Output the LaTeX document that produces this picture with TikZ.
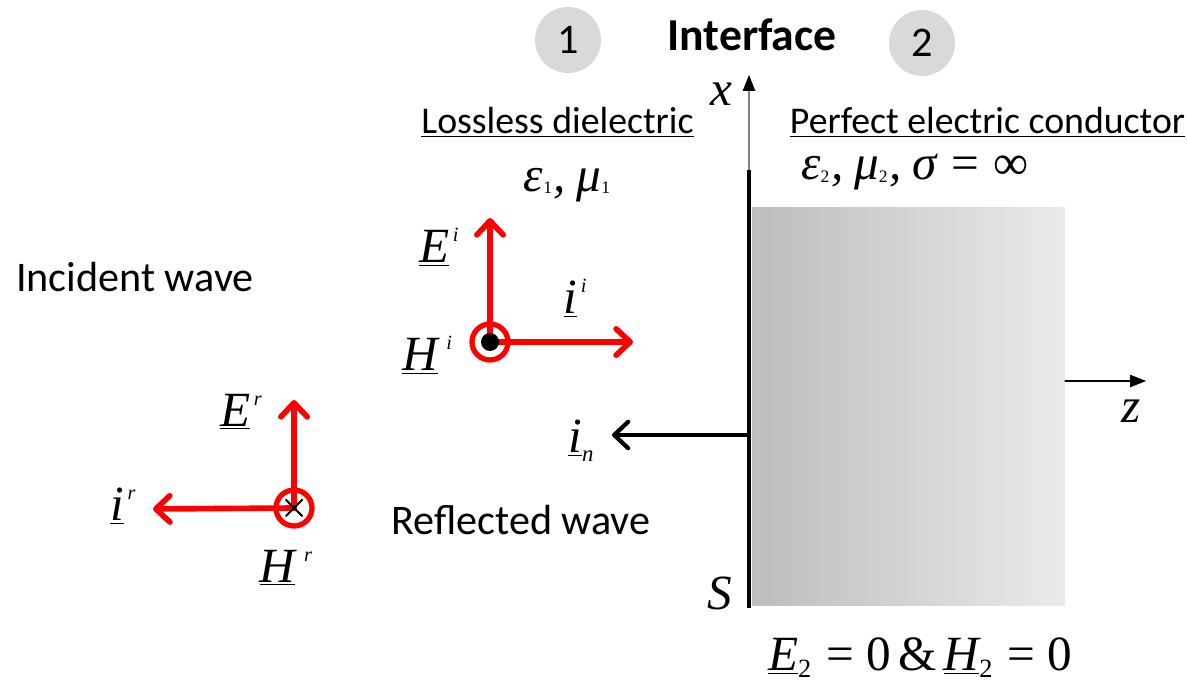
\documentclass[tikz,border=0pt]{standalone}
\usepackage{fontspec}
\setmainfont{Carlito}
\newfontfamily\tnr{Liberation Serif}
\usetikzlibrary{arrows.meta}
\definecolor{discgray}{HTML}{D9D9D9}
\definecolor{pecdark}{HTML}{BDBDBD}
\definecolor{peclight}{HTML}{EAEAEA}
% small indices beside the symbols
\newcommand{\supidx}[1]{\kern2pt\raisebox{12pt}{\fontsize{11.5}{11.5}\selectfont #1}}
\newcommand{\subidx}[1]{\raisebox{-1.5pt}{\fontsize{10}{10}\selectfont\upshape #1}}
\newcommand{\gap}{\kern1pt,\kern6pt}
\begin{document}
\begin{tikzpicture}[line cap=round,line join=round,
  field/.style={red,line width=3.2pt,-{Straight Barb[length=8pt,width=15pt,line cap=round,line join=round]}},
  ring/.style={draw=red,line width=3pt},
  txt/.style={font=\fontsize{24}{28}\selectfont},
  head/.style={font=\fontsize{21.5}{26}\selectfont},
  sym/.style={font=\fontsize{28}{32}\selectfont\tnr\itshape,inner sep=0pt},
  region/.style={circle,fill=discgray,minimum size=1.32cm,inner sep=0pt,font=\fontsize{24}{28}\selectfont}]
  \useasboundingbox (0,0) rectangle (23.74,13.72);
  % regions and interface
  \node[region] (one) at (11.36,12.92) {1};
  \node[region] (two) at (18.44,12.86) {2};
  \node[font=\fontsize{26}{30}\selectfont\bfseries] (iface) at (15.04,13.02) {Interface};
  \node[head] (diel) at (11.15,11.28) {\underline{Lossless dielectric}};
  \node[head] (pec) at (19.75,11.28) {\underline{Perfect electric conductor}};
  \node[sym] (mat1) at (11.34,10.02) {ε\subidx{1}\gap μ\subidx{1}};
  \node[sym] (mat2) at (18.3,10.28) {ε\subidx{2}\gap μ\subidx{2}\gap σ\hspace{0.3em}{\upshape =}\hspace{0.3em}{\upshape ∞}};
  % conductor and axes
  \shade[left color=pecdark,right color=peclight] (15.04,1.60) rectangle (21.30,9.56);
  \coordinate (xbase) at (14.98,10.32);
  \coordinate (xtip) at (14.98,12.22);
  \coordinate (sbot) at (14.98,1.56);
  \coordinate (zbase) at (21.30,6.10);
  \coordinate (ztip) at (22.92,6.10);
  \draw[gray,line width=0.6pt,-{Triangle[length=9pt,width=7pt,color=black]}] (xbase) -- (xtip);
  \draw[line width=0.6pt,-{Triangle[length=9pt,width=7pt]}] (zbase) -- (ztip);
  \draw[line width=2.3pt,line cap=butt] (xbase) -- (sbot);
  \node[sym] (xlab) at (14.42,11.84) {x};
  \node[sym] (zlab) at (22.62,5.50) {z};
  \node[sym] (slab) at (14.40,1.86) {S};
  \node[sym] (bc) at (18.40,0.56) {\underline{E}\raisebox{-4pt}{\fontsize{15}{15}\selectfont\upshape 2}\upshape\hspace{0.3em}=\hspace{0.25em}0\hspace{0.15em}\&\hspace{0.15em}\itshape\underline{H}\raisebox{-4pt}{\fontsize{15}{15}\selectfont\upshape 2}\upshape\hspace{0.3em}=\hspace{0.25em}0};
  % normal vector
  \coordinate (nbase) at (14.98,5.02);
  \coordinate (ntip) at (12.24,5.02);
  \draw[line width=2.4pt,-{Straight Barb[length=8pt,width=15pt,line cap=round,line join=round]}] (nbase) -- (ntip);
  \node[sym] (nlab) at (11.62,4.90) {\underline{i}\raisebox{-5pt}{\fontsize{13}{13}\selectfont n}};
  % incident wave
  \node[txt] (inc) at (2.70,8.18) {Incident wave};
  \coordinate (hi) at (9.80,6.88);
  \coordinate (eitip) at (9.80,9.36);
  \coordinate (iitip) at (12.66,6.88);
  \draw[field] (hi) -- (eitip);
  \draw[field] (hi) -- (iitip);
  \draw[ring] (hi) circle (0.36);
  \fill (hi) circle (0.18);
  \node[sym] (eilab) at (8.78,8.78) {\underline{E}\supidx{i}};
  \node[sym] (hilab) at (8.54,6.62) {\underline{H}\kern3pt\supidx{i}};
  \node[sym] (iilab) at (11.50,7.76) {\underline{i}\supidx{i}};
  % reflected wave
  \node[txt] (refl) at (10.42,3.32) {Reflected wave};
  \coordinate (hr) at (5.88,3.56);
  \coordinate (ertip) at (5.88,5.72);
  \coordinate (irtip) at (3.06,3.54);
  \draw[field] (hr) -- (ertip);
  \draw[field] (hr) -- (irtip);
  \draw[ring] (hr) circle (0.36);
  \draw[line width=1.2pt] (hr) ++(-0.16,-0.16) -- ++(0.32,0.32);
  \draw[line width=1.2pt] (hr) ++(-0.16,0.16) -- ++(0.32,-0.32);
  \node[sym] (erlab) at (4.82,5.48) {\underline{E}\supidx{r}};
  \node[sym] (irlab) at (2.46,3.60) {\underline{i}\supidx{r}};
  \node[sym] (hrlab) at (5.72,2.36) {\underline{H}\kern3pt\supidx{r}};
\end{tikzpicture}
\end{document}
